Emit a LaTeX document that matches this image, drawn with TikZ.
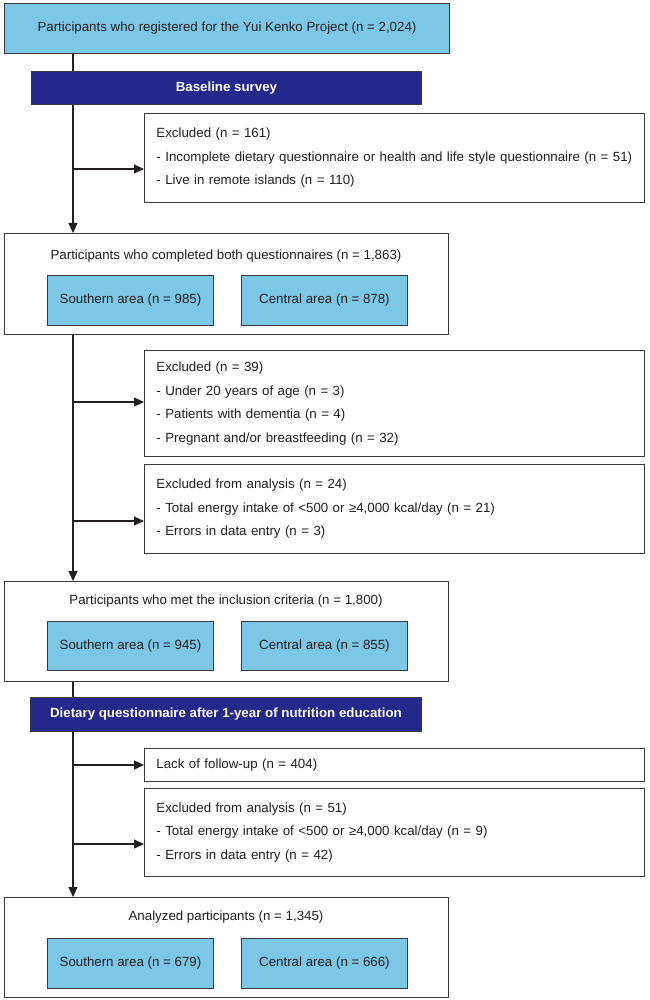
\documentclass[tikz,border=0pt]{standalone}
\usepackage{fontspec}
\setmainfont{Liberation Sans}
\usetikzlibrary{arrows.meta,calc}
\definecolor{lblue}{HTML}{7CC6E6}
\definecolor{navy}{HTML}{24288A}
\definecolor{edge}{HTML}{3A3A3A}
\definecolor{ink}{HTML}{231F20}
\begin{document}
\begin{tikzpicture}[x=1pt,y=-1pt,
  every node/.style={font=\fontsize{13.3}{23.5}\selectfont, text=ink},
  box/.style={draw=edge, line width=0.9pt, anchor=north west, inner sep=0pt},
  bluebox/.style={box, fill=lblue},
  bar/.style={draw=edge, line width=0.9pt, fill=navy, anchor=north west, inner sep=0pt, text=white, font=\fontsize{13.3}{16}\selectfont\bfseries},
  exbox/.style={box, align=left, inner xsep=12pt, inner ysep=0pt, text width=476pt},
  conn/.style={draw=ink, line width=1.2pt},
  arr/.style={conn, -{Triangle[length=10pt,width=9pt]}},
]
\path[use as bounding box] (0,0) rectangle (649,1000);

% nodes
\node[bluebox, minimum width=445pt, minimum height=50pt] (reg) at (4,3) {Participants who registered for the Yui Kenko Project (n = 2,024)};
\node[bar, minimum width=390pt, minimum height=33pt] (base) at (31,71) {Baseline survey};
\node[exbox, minimum height=89pt] (ex1) at (144,113) {Excluded (n = 161)\\- Incomplete dietary questionnaire or health and life style questionnaire (n = 51)\\- Live in remote islands (n = 110)};

\node[box, minimum width=444pt, minimum height=101pt] (comp) at (4,233) {};
\node (compt) at (226,256) {Participants who completed both questionnaires (n = 1,863)};
\node[bluebox, minimum width=166pt, minimum height=50pt] (s1) at (47,275) {Southern area (n = 985)};
\node[bluebox, minimum width=166pt, minimum height=50pt] (c1) at (241,275) {Central area (n = 878)};

\node[exbox, minimum height=106pt] (ex2) at (144,350) {Excluded (n = 39)\\- Under 20 years of age (n = 3)\\- Patients with dementia (n = 4)\\- Pregnant and/or breastfeeding (n = 32)};
\node[exbox, minimum height=89pt] (ex3) at (144,464) {Excluded from analysis (n = 24)\\- Total energy intake of <500 or ≥4,000 kcal/day (n = 21)\\- Errors in data entry (n = 3)};

\node[box, minimum width=444pt, minimum height=100pt] (incl) at (4,581) {};
\node (inclt) at (226,601) {Participants who met the inclusion criteria (n = 1,800)};
\node[bluebox, minimum width=166pt, minimum height=49pt] (s2) at (47,621) {Southern area (n = 945)};
\node[bluebox, minimum width=166pt, minimum height=49pt] (c2) at (241,621) {Central area (n = 855)};

\node[bar, minimum width=391pt, minimum height=34pt] (diet) at (30,697) {Dietary questionnaire after 1-year of nutrition education};

\node[exbox, minimum height=33pt] (lack) at (144,748) {Lack of follow-up (n = 404)};
\node[exbox, minimum height=88pt] (ex5) at (144,788) {Excluded from analysis (n = 51)\\- Total energy intake of <500 or ≥4,000 kcal/day (n = 9)\\- Errors in data entry (n = 42)};

\node[box, minimum width=444pt, minimum height=100pt] (anal) at (4,897) {};
\node (analt) at (226,917) {Analyzed participants (n = 1,345)};
\node[bluebox, minimum width=166pt, minimum height=50pt] (s3) at (47,938) {Southern area (n = 679)};
\node[bluebox, minimum width=166pt, minimum height=50pt] (c3) at (241,938) {Central area (n = 666)};

% connectors
\coordinate (sp) at (73,0);
\draw[conn] (reg.south -| sp) -- (base.north -| sp);
\draw[arr] (base.south -| sp) -- (comp.north -| sp);
\draw[arr] (comp.south -| sp) -- (incl.north -| sp);
\draw[conn] (incl.south -| sp) -- (diet.north -| sp);
\draw[arr] (diet.south -| sp) -- (anal.north -| sp);

\coordinate (a1) at (73,169);
\coordinate (a2) at (73,402);
\coordinate (a3) at (73,521);
\coordinate (a4) at (73,765);
\coordinate (a5) at (73,844);
\draw[arr] (a1) -- (a1 -| ex1.west);
\draw[arr] (a2) -- (a2 -| ex2.west);
\draw[arr] (a3) -- (a3 -| ex3.west);
\draw[arr] (a4) -- (a4 -| lack.west);
\draw[arr] (a5) -- (a5 -| ex5.west);
\end{tikzpicture}
\end{document}
